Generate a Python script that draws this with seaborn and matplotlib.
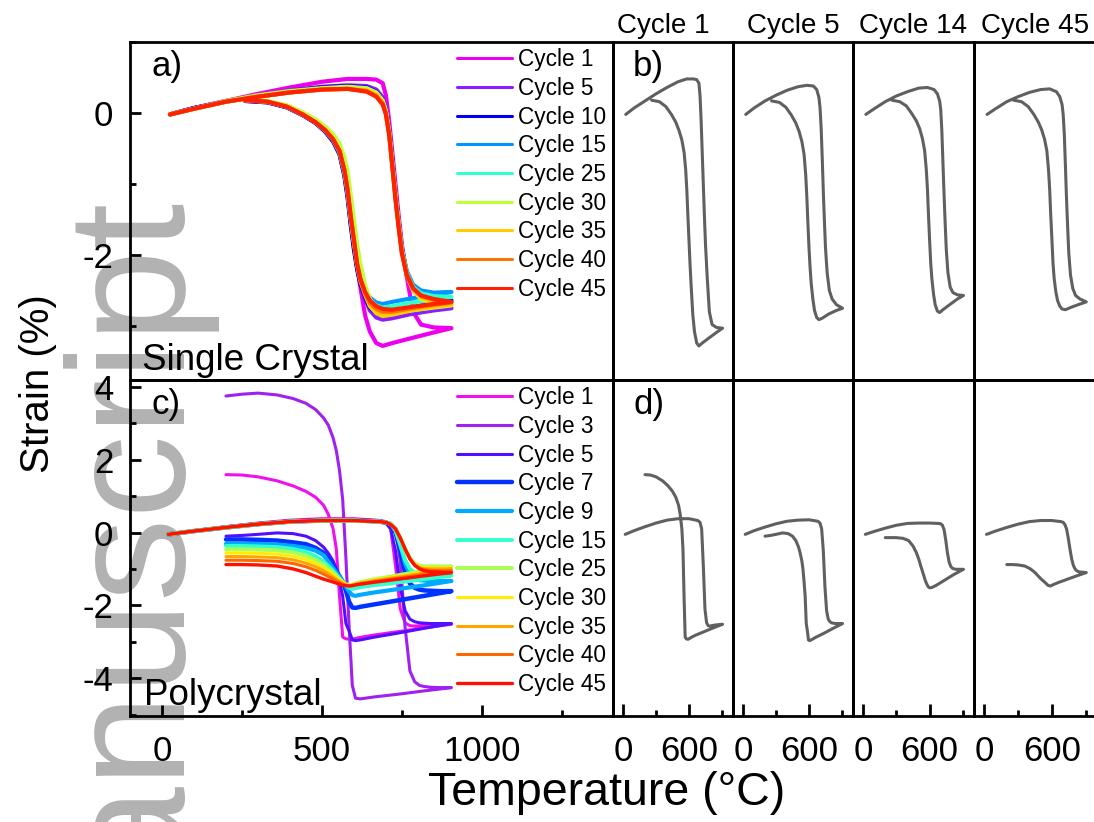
import numpy as np
import pandas as pd
import matplotlib
matplotlib.use('Agg')
import matplotlib.pyplot as plt
from matplotlib.lines import Line2D
from matplotlib.ticker import MultipleLocator
import seaborn as sns

# ---- single crystal: temperature grids (heating, then cooling) ----
TA_UP = [25, 100, 200, 300, 400, 500, 580, 640, 670, 690, 700, 710, 720, 730, 740, 750, 765, 785, 810, 850, 905]
TA_DOWN = [905, 850, 780, 720, 690, 670, 650, 635, 620, 610, 600, 590, 580, 570, 555, 535, 510, 480, 440, 390, 330, 260]

A1_UP = [-0.02, 0.07, 0.17, 0.27, 0.36, 0.44, 0.48, 0.48, 0.47, 0.42, 0.25, -0.10, -0.55, -1.00, -1.45, -1.85, -2.30, -2.80, -2.98, -3.02, -3.03]
A1_DOWN = [-3.03, -3.09, -3.17, -3.24, -3.28, -3.24, -3.08, -2.85, -2.45, -2.15, -1.80, -1.45, -1.08, -0.80, -0.55, -0.38, -0.25, -0.13, -0.02, 0.09, 0.16, 0.18]
A5_UP = [-0.02, 0.07, 0.17, 0.25, 0.32, 0.37, 0.39, 0.38, 0.33, 0.22, 0.08, -0.20, -0.62, -1.10, -1.52, -1.90, -2.25, -2.50, -2.62, -2.70, -2.75]
A5_DOWN = [-2.75, -2.78, -2.83, -2.89, -2.91, -2.88, -2.78, -2.62, -2.40, -2.18, -1.90, -1.55, -1.17, -0.87, -0.58, -0.40, -0.26, -0.14, -0.03, 0.08, 0.15, 0.17]
A10_UP = [-0.02, 0.07, 0.16, 0.24, 0.31, 0.36, 0.38, 0.36, 0.30, 0.19, 0.05, -0.24, -0.68, -1.15, -1.56, -1.93, -2.27, -2.48, -2.58, -2.62, -2.64]
A10_DOWN = [-2.64, -2.68, -2.74, -2.80, -2.84, -2.82, -2.74, -2.60, -2.40, -2.20, -1.92, -1.58, -1.18, -0.88, -0.58, -0.40, -0.26, -0.14, -0.03, 0.08, 0.15, 0.17]
A15_UP = [-0.02, 0.06, 0.16, 0.23, 0.29, 0.34, 0.36, 0.34, 0.28, 0.17, 0.03, -0.26, -0.70, -1.15, -1.55, -1.90, -2.22, -2.42, -2.50, -2.53, -2.52]
A15_DOWN = [-2.52, -2.56, -2.61, -2.66, -2.69, -2.67, -2.60, -2.48, -2.30, -2.10, -1.82, -1.50, -1.12, -0.84, -0.56, -0.38, -0.25, -0.13, -0.02, 0.09, 0.16, 0.18]
A25_UP = [-0.02, 0.06, 0.16, 0.23, 0.29, 0.34, 0.35, 0.33, 0.27, 0.16, 0.02, -0.28, -0.72, -1.18, -1.58, -1.94, -2.25, -2.45, -2.54, -2.58, -2.59]
A25_DOWN = [-2.59, -2.62, -2.67, -2.72, -2.74, -2.71, -2.63, -2.50, -2.31, -2.10, -1.80, -1.47, -1.09, -0.81, -0.54, -0.37, -0.24, -0.12, -0.02, 0.09, 0.16, 0.18]
A30_UP = [-0.02, 0.06, 0.17, 0.25, 0.31, 0.35, 0.37, 0.35, 0.29, 0.18, 0.04, -0.25, -0.70, -1.16, -1.57, -1.94, -2.28, -2.50, -2.62, -2.68, -2.71]
A30_DOWN = [-2.71, -2.74, -2.78, -2.82, -2.82, -2.76, -2.62, -2.42, -2.12, -1.85, -1.50, -1.15, -0.82, -0.62, -0.43, -0.30, -0.19, -0.09, 0.01, 0.11, 0.17, 0.19]
A35_UP = [-0.02, 0.06, 0.16, 0.23, 0.29, 0.33, 0.34, 0.32, 0.26, 0.15, 0.01, -0.28, -0.72, -1.18, -1.58, -1.95, -2.27, -2.48, -2.60, -2.66, -2.70]
A35_DOWN = [-2.70, -2.73, -2.78, -2.84, -2.86, -2.82, -2.72, -2.56, -2.36, -2.14, -1.82, -1.48, -1.09, -0.81, -0.54, -0.37, -0.24, -0.13, -0.02, 0.09, 0.16, 0.18]
A40_UP = [-0.02, 0.06, 0.16, 0.23, 0.29, 0.33, 0.34, 0.31, 0.24, 0.13, -0.01, -0.29, -0.74, -1.20, -1.60, -1.96, -2.27, -2.47, -2.58, -2.63, -2.67]
A40_DOWN = [-2.67, -2.70, -2.75, -2.80, -2.80, -2.76, -2.68, -2.54, -2.34, -2.13, -1.80, -1.46, -1.08, -0.80, -0.54, -0.37, -0.24, -0.13, -0.02, 0.09, 0.16, 0.18]
A45_UP = [-0.02, 0.06, 0.16, 0.23, 0.29, 0.33, 0.34, 0.30, 0.23, 0.12, -0.02, -0.30, -0.75, -1.22, -1.62, -1.98, -2.28, -2.47, -2.57, -2.62, -2.66]
A45_DOWN = [-2.66, -2.69, -2.73, -2.77, -2.76, -2.72, -2.64, -2.52, -2.33, -2.12, -1.78, -1.45, -1.07, -0.80, -0.53, -0.37, -0.24, -0.13, -0.02, 0.09, 0.16, 0.18]
# cycle 14 only appears in the small grey panel
B14_UP = [-0.02, 0.06, 0.16, 0.24, 0.30, 0.35, 0.36, 0.33, 0.27, 0.17, 0.05, -0.25, -0.70, -1.15, -1.55, -1.92, -2.25, -2.45, -2.53, -2.56, -2.57]
B14_DOWN = [-2.57, -2.62, -2.70, -2.77, -2.81, -2.79, -2.70, -2.55, -2.33, -2.12, -1.80, -1.45, -1.07, -0.80, -0.53, -0.36, -0.22, -0.11, -0.01, 0.10, 0.16, 0.18]

A_LABELS = ['Cycle 1', 'Cycle 5', 'Cycle 10', 'Cycle 15', 'Cycle 25', 'Cycle 30', 'Cycle 35', 'Cycle 40', 'Cycle 45']
A_COLORS = ['#ee00ee', '#8c1cff', '#0000ee', '#0095ff', '#33ffcc', '#bfff3a', '#ffcc00', '#ff7400', '#ff2200']

# ---- polycrystal ----
TC_UP = [20, 100, 200, 300, 400, 500, 600, 680, 700, 715, 730, 745, 760, 775, 790, 805, 820, 840, 870, 905]
TC_DOWN = [905, 820, 740, 660, 620, 605, 595, 585, 575, 565, 555, 545, 535, 520, 505, 480, 450, 410, 360, 300, 250, 200]

C1_UP = [-0.05, 0.05, 0.16, 0.26, 0.34, 0.38, 0.38, 0.33, 0.28, 0.10, -0.90, -2.10, -2.48, -2.56, -2.57, -2.56, -2.55, -2.54, -2.53, -2.52]
C1_DOWN = [-2.52, -2.62, -2.72, -2.82, -2.88, -2.91, -2.93, -2.93, -2.92, -2.87, -1.75, -0.45, 0.10, 0.50, 0.75, 0.97, 1.13, 1.28, 1.42, 1.53, 1.58, 1.59]
C3_UP = [-0.05, 0.05, 0.15, 0.24, 0.31, 0.35, 0.36, 0.33, 0.30, 0.25, 0.10, -0.80, -2.60, -3.80, -4.10, -4.20, -4.23, -4.25, -4.26, -4.26]
C3_DOWN = [-4.26, -4.35, -4.44, -4.52, -4.57, -4.55, -4.20, -2.60, -0.70, 0.90, 1.70, 2.25, 2.60, 2.95, 3.15, 3.38, 3.55, 3.68, 3.78, 3.83, 3.80, 3.75]
C5_UP = [-0.05, 0.05, 0.15, 0.24, 0.31, 0.34, 0.35, 0.31, 0.26, 0.10, -0.50, -1.50, -2.15, -2.38, -2.45, -2.48, -2.49, -2.50, -2.50, -2.50]
C5_DOWN = [-2.50, -2.63, -2.76, -2.88, -2.95, -2.97, -2.95, -2.70, -2.50, -1.75, -1.35, -1.00, -0.78, -0.57, -0.40, -0.22, -0.10, -0.03, -0.01, -0.05, -0.08, -0.10]
C7_UP = [-0.05, 0.04, 0.14, 0.23, 0.30, 0.33, 0.34, 0.30, 0.27, 0.20, 0.00, -0.50, -1.10, -1.40, -1.52, -1.57, -1.59, -1.60, -1.61, -1.61]
C7_DOWN = [-1.61, -1.74, -1.86, -1.98, -2.04, -2.07, -2.06, -1.90, -1.60, -1.35, -1.20, -1.05, -0.92, -0.72, -0.56, -0.42, -0.32, -0.27, -0.22, -0.20, -0.19, -0.19]
C9_UP = [-0.05, 0.04, 0.14, 0.23, 0.30, 0.33, 0.34, 0.30, 0.28, 0.24, 0.10, -0.30, -0.85, -1.15, -1.27, -1.31, -1.32, -1.33, -1.33, -1.33]
C9_DOWN = [-1.33, -1.45, -1.55, -1.65, -1.71, -1.74, -1.72, -1.62, -1.48, -1.35, -1.22, -1.10, -0.98, -0.80, -0.62, -0.50, -0.42, -0.37, -0.33, -0.31, -0.31, -0.31]
C15_UP = [-0.05, 0.04, 0.14, 0.23, 0.30, 0.33, 0.33, 0.30, 0.28, 0.24, 0.05, -0.35, -0.75, -1.00, -1.10, -1.15, -1.17, -1.18, -1.18, -1.18]
C15_DOWN = [-1.18, -1.28, -1.37, -1.45, -1.50, -1.53, -1.55, -1.52, -1.45, -1.36, -1.26, -1.16, -1.05, -0.92, -0.80, -0.65, -0.53, -0.45, -0.40, -0.38, -0.37, -0.37]
C25_UP = [-0.05, 0.04, 0.14, 0.23, 0.30, 0.33, 0.33, 0.30, 0.28, 0.23, 0.10, -0.15, -0.45, -0.70, -0.85, -0.91, -0.93, -0.93, -0.93, -0.93]
C25_DOWN = [-0.93, -1.05, -1.17, -1.29, -1.36, -1.40, -1.43, -1.45, -1.42, -1.36, -1.28, -1.19, -1.10, -0.99, -0.88, -0.75, -0.64, -0.55, -0.49, -0.47, -0.46, -0.46]
C30_UP = [-0.05, 0.04, 0.14, 0.23, 0.30, 0.33, 0.33, 0.30, 0.28, 0.23, 0.10, -0.15, -0.46, -0.72, -0.87, -0.94, -0.96, -0.97, -0.97, -0.97]
C30_DOWN = [-0.97, -1.08, -1.20, -1.31, -1.38, -1.41, -1.44, -1.46, -1.43, -1.38, -1.31, -1.24, -1.16, -1.06, -0.97, -0.85, -0.74, -0.65, -0.59, -0.57, -0.56, -0.56]
C35_UP = [-0.05, 0.04, 0.14, 0.23, 0.30, 0.33, 0.33, 0.30, 0.28, 0.22, 0.10, -0.15, -0.46, -0.73, -0.89, -0.96, -0.99, -1.00, -1.00, -1.00]
C35_DOWN = [-1.00, -1.11, -1.22, -1.33, -1.39, -1.42, -1.45, -1.46, -1.44, -1.40, -1.34, -1.28, -1.22, -1.13, -1.05, -0.94, -0.84, -0.75, -0.69, -0.67, -0.66, -0.66]
C40_UP = [-0.05, 0.04, 0.14, 0.23, 0.30, 0.33, 0.33, 0.30, 0.28, 0.22, 0.10, -0.15, -0.45, -0.72, -0.89, -0.98, -1.02, -1.04, -1.05, -1.05]
C40_DOWN = [-1.05, -1.15, -1.25, -1.35, -1.40, -1.43, -1.45, -1.46, -1.45, -1.42, -1.38, -1.33, -1.28, -1.21, -1.14, -1.04, -0.94, -0.85, -0.79, -0.77, -0.76, -0.76]
C45_UP = [-0.05, 0.04, 0.14, 0.23, 0.30, 0.33, 0.33, 0.30, 0.28, 0.22, 0.10, -0.15, -0.45, -0.72, -0.90, -1.00, -1.05, -1.08, -1.09, -1.10]
C45_DOWN = [-1.10, -1.19, -1.28, -1.37, -1.42, -1.44, -1.46, -1.47, -1.46, -1.45, -1.42, -1.39, -1.36, -1.32, -1.28, -1.20, -1.10, -1.00, -0.92, -0.89, -0.88, -0.88]
D14_UP = [-0.05, 0.03, 0.12, 0.20, 0.25, 0.26, 0.26, 0.25, 0.24, 0.20, 0.08, -0.20, -0.55, -0.80, -0.93, -0.98, -1.00, -1.01, -1.01, -1.01]
D14_DOWN = [-1.01, -1.15, -1.30, -1.45, -1.51, -1.52, -1.51, -1.48, -1.42, -1.35, -1.26, -1.16, -1.06, -0.92, -0.76, -0.55, -0.37, -0.22, -0.16, -0.14, -0.14, -0.14]

C_LABELS = ['Cycle 1', 'Cycle 3', 'Cycle 5', 'Cycle 7', 'Cycle 9', 'Cycle 15', 'Cycle 25', 'Cycle 30', 'Cycle 35', 'Cycle 40', 'Cycle 45']
C_COLORS = ['#ee11ee', '#a020f0', '#5010ff', '#0033ff', '#00aaff', '#33ffcc', '#aaff55', '#ffee00', '#ffa500', '#ff6600', '#ff1100']
C_LW = [2.2, 2.2, 2.2, 3.2, 3.0, 2.8, 2.8, 2.2, 2.2, 2.2, 2.4]

COL_TITLES = ['Cycle 1', 'Cycle 5', 'Cycle 14', 'Cycle 45']

A_UP = [A1_UP, A5_UP, A10_UP, A15_UP, A25_UP, A30_UP, A35_UP, A40_UP, A45_UP]
A_DOWN = [A1_DOWN, A5_DOWN, A10_DOWN, A15_DOWN, A25_DOWN, A30_DOWN, A35_DOWN, A40_DOWN, A45_DOWN]
C_UP = [C1_UP, C3_UP, C5_UP, C7_UP, C9_UP, C15_UP, C25_UP, C30_UP, C35_UP, C40_UP, C45_UP]
C_DOWN = [C1_DOWN, C3_DOWN, C5_DOWN, C7_DOWN, C9_DOWN, C15_DOWN, C25_DOWN, C30_DOWN, C35_DOWN, C40_DOWN, C45_DOWN]
B_UP = [A1_UP, A5_UP, B14_UP, A45_UP]
B_DOWN = [A1_DOWN, A5_DOWN, B14_DOWN, A45_DOWN]
D_UP = [C1_UP, C5_UP, D14_UP, C45_UP]
D_DOWN = [C1_DOWN, C5_DOWN, D14_DOWN, C45_DOWN]

sns.set_style('ticks')
plt.rcParams['font.family'] = ['Liberation Sans', 'DejaVu Sans']
plt.rcParams['axes.unicode_minus'] = False
for key in ('text.color', 'xtick.color', 'ytick.color', 'axes.labelcolor', 'axes.edgecolor'):
    plt.rcParams[key] = 'black'

W, H = 1094, 822
fig = plt.figure(figsize=(W / 100, H / 100), dpi=100)
fig.patch.set_facecolor('white')


def rect(x0, y0, x1, y1):
    # pixel box -> figure fraction
    return [x0 / W, 1 - y1 / H, (x1 - x0) / W, (y1 - y0) / H]


def loop(ax, t_up, t_down, s_up, s_down, color, lw):
    df = pd.DataFrame({'T': list(t_up) + list(t_down), 'strain': list(s_up) + list(s_down)})
    sns.lineplot(data=df, x='T', y='strain', sort=False, estimator=None,
                 color=color, lw=lw, ax=ax, legend=False)


def frame(ax):
    ax.patch.set_alpha(0)
    for s in ax.spines.values():
        s.set_visible(True)
        s.set_linewidth(2.0)
        s.set_color('black')
    ax.set_xlabel('')
    ax.set_ylabel('')


# watermark behind everything
fig.text(185 / W, 1 - 203 / H, 'Accepted Manuscript', rotation=90, rotation_mode='anchor',
         ha='right', va='baseline', fontsize=120, color='#b2b2b2', zorder=-5)

ax_a = fig.add_axes(rect(130, 42, 613, 380))
ax_c = fig.add_axes(rect(130, 380, 613, 716))
col_x = [613, 733, 853, 974]
col_w = [120, 120, 121, 123]
ax_b = [fig.add_axes(rect(x, 42, x + w, 380)) for x, w in zip(col_x, col_w)]
ax_d = [fig.add_axes(rect(x, 380, x + w, 716)) for x, w in zip(col_x, col_w)]

# a) single crystal
for up, down, col in zip(A_UP, A_DOWN, A_COLORS):
    loop(ax_a, TA_UP, TA_DOWN, up, down, col, 3.0)
ax_a.set_xlim(-100, 1410)
ax_a.set_ylim(-3.76, 1.0)
ax_a.yaxis.set_major_locator(MultipleLocator(2))
ax_a.yaxis.set_minor_locator(MultipleLocator(1))
ax_a.tick_params(axis='x', which='both', bottom=False, labelbottom=False)
ax_a.tick_params(axis='y', which='major', direction='in', length=8, width=2, labelsize=25, pad=12)
ax_a.tick_params(axis='y', which='minor', direction='in', length=4, width=2, left=True)
frame(ax_a)
ax_a.text(0.045, 0.975, 'a)', transform=ax_a.transAxes, fontsize=25, va='top')
ax_a.text(0.025, 0.03, 'Single Crystal', transform=ax_a.transAxes, fontsize=26.5, va='baseline')
hA = [Line2D([], [], color=c, lw=2.2) for c in A_COLORS]
ax_a.legend(hA, A_LABELS, loc='upper left', bbox_to_anchor=(0.677, 0.981), frameon=False,
            fontsize=16.3, handlelength=2.43, handletextpad=0.27, labelspacing=0.25,
            borderpad=0, borderaxespad=0)

# c) polycrystal
for up, down, col, w in zip(C_UP, C_DOWN, C_COLORS, C_LW):
    loop(ax_c, TC_UP, TC_DOWN, up, down, col, w)
ax_c.set_xlim(-100, 1410)
ax_c.set_ylim(-5.04, 4.19)
ax_c.xaxis.set_major_locator(MultipleLocator(500))
ax_c.xaxis.set_minor_locator(MultipleLocator(250))
ax_c.yaxis.set_major_locator(MultipleLocator(2))
ax_c.yaxis.set_minor_locator(MultipleLocator(1))
ax_c.tick_params(axis='both', which='major', direction='in', length=8, width=2, labelsize=25)
ax_c.tick_params(axis='y', which='major', pad=12)
ax_c.tick_params(axis='x', which='major', pad=14)
ax_c.tick_params(axis='both', which='minor', direction='in', length=4, width=2, bottom=True, left=True)
frame(ax_c)
ax_c.text(0.045, 0.975, 'c)', transform=ax_c.transAxes, fontsize=25, va='top')
ax_c.text(0.03, 0.033, 'Polycrystal', transform=ax_c.transAxes, fontsize=26.5, va='baseline')
hC = [Line2D([], [], color=c, lw=w) for c, w in zip(C_COLORS, C_LW)]
ax_c.legend(hC, C_LABELS, loc='upper left', bbox_to_anchor=(0.677, 0.981), frameon=False,
            fontsize=16.3, handlelength=2.43, handletextpad=0.27, labelspacing=0.25,
            borderpad=0, borderaxespad=0)

# b) and d) single loops in grey
for i in range(4):
    axb, axd = ax_b[i], ax_d[i]
    loop(axb, TA_UP, TA_DOWN, B_UP[i], B_DOWN[i], '#606060', 2.2)
    loop(axd, TC_UP, TC_DOWN, D_UP[i], D_DOWN[i], '#606060', 2.2)
    for ax in (axb, axd):
        ax.set_xlim(-91, 1000)
        frame(ax)
        ax.tick_params(axis='y', which='both', left=False, labelleft=False)
    axb.set_ylim(-3.76, 1.0)
    axd.set_ylim(-5.04, 4.19)
    axb.tick_params(axis='x', which='both', bottom=False, labelbottom=False)
    axd.xaxis.set_major_locator(MultipleLocator(600))
    axd.xaxis.set_minor_locator(MultipleLocator(300))
    axd.tick_params(axis='x', which='major', direction='in', length=9, width=2, labelsize=25, pad=14)
    axd.tick_params(axis='x', which='minor', direction='in', length=4, width=2, bottom=True)
    cx = 0.417 if i == 0 else 0.5
    axb.text(cx, 1.027, COL_TITLES[i], transform=axb.transAxes, fontsize=20,
             ha='center', va='baseline')

ax_b[0].text(0.167, 0.975, 'b)', transform=ax_b[0].transAxes, fontsize=25, va='top')
ax_d[0].text(0.167, 0.975, 'd)', transform=ax_d[0].transAxes, fontsize=25, va='top')

fig.text(607 / W, 1 - 805 / H, 'Temperature (°C)', ha='center', va='baseline', fontsize=33.5)
fig.text(49 / W, 1 - 384 / H, 'Strain (%)', rotation=90, rotation_mode='anchor',
         ha='center', va='baseline', fontsize=29)

fig.savefig('out.png', dpi=100, facecolor='white')
